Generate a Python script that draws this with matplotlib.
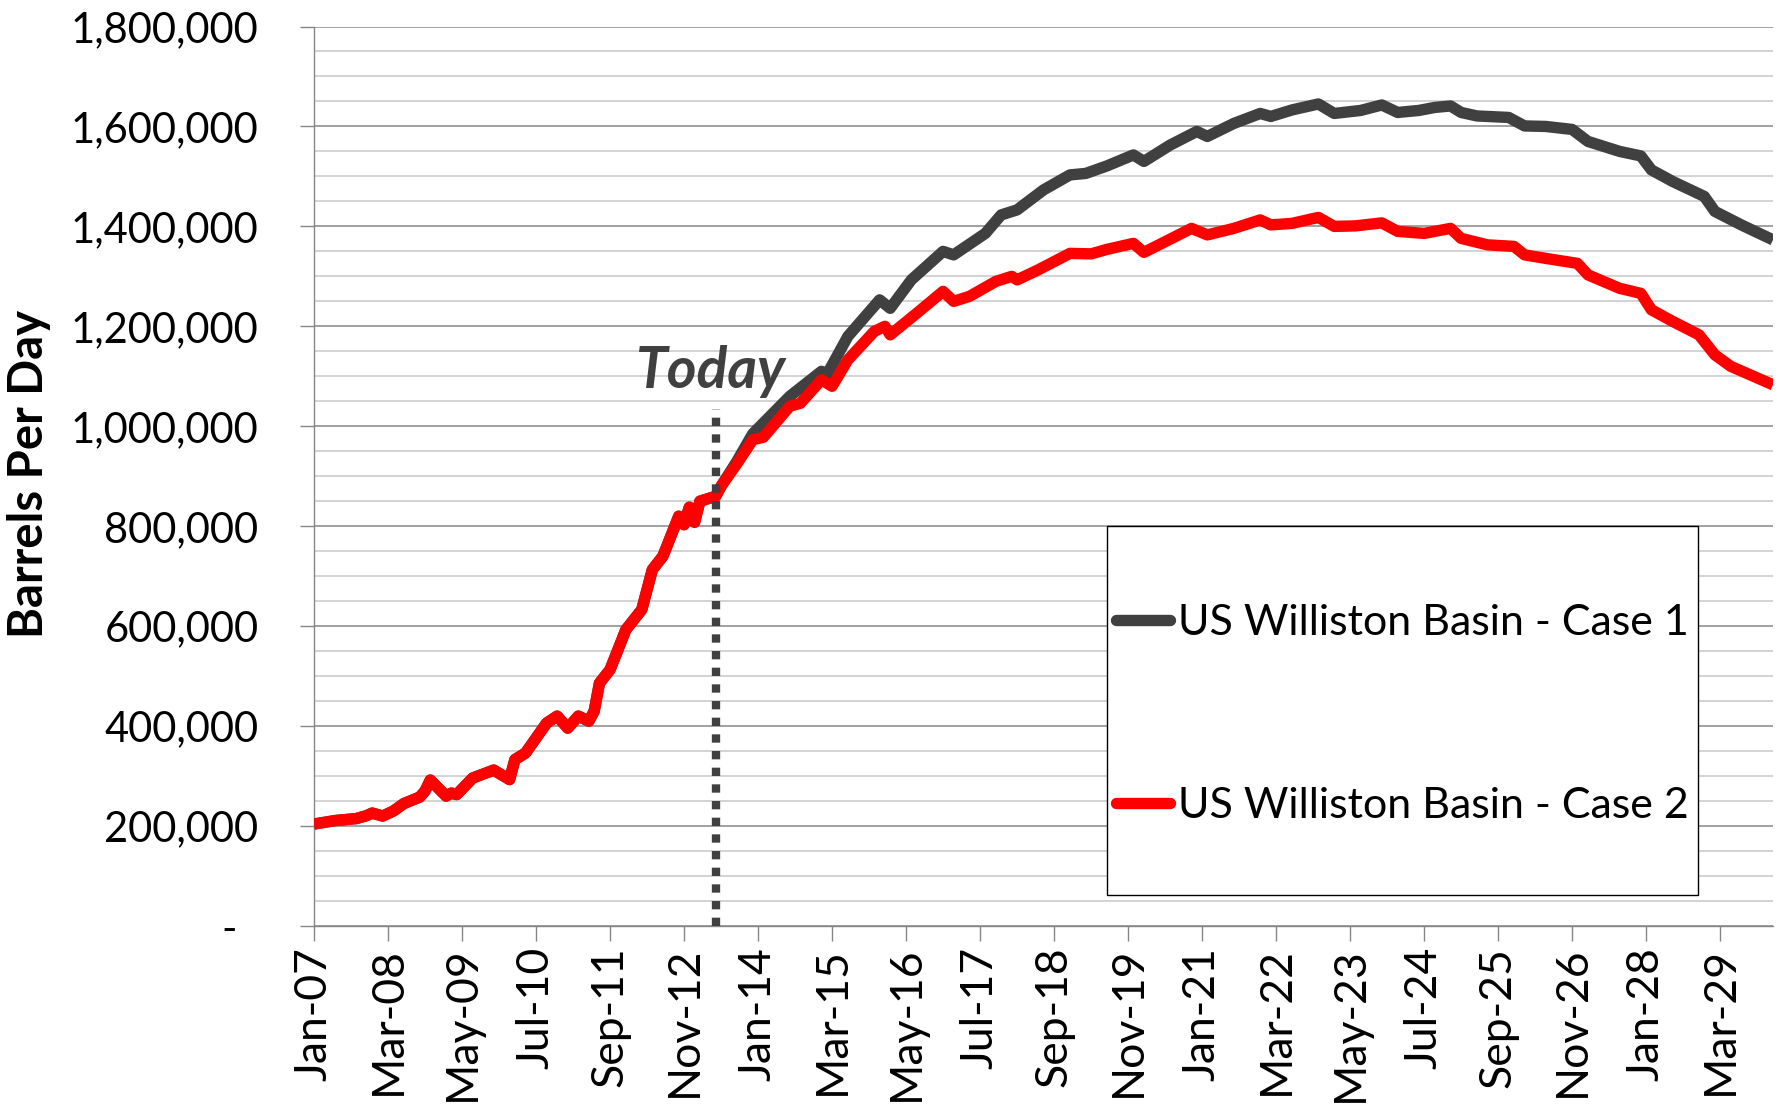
import matplotlib
matplotlib.use("Agg")
import matplotlib.pyplot as plt
from matplotlib.patches import Rectangle
from matplotlib.lines import Line2D

plt.rcParams['font.family'] = ['Lato', 'DejaVu Sans']

# ---------------- data ----------------
# month index: 0 = Jan-07
hist_month = [0, 4, 8, 10, 11, 13, 15, 17, 20, 21, 22, 25, 26, 27, 30, 34, 37, 38, 40, 42,
              44, 46, 48, 50, 52, 53, 54, 56, 59, 62, 64, 66, 69, 70, 71, 72, 73, 76, 77]
hist_bpd = [204000, 211000, 215000, 221000, 226000, 220000, 230000, 245000, 258000, 270000,
            292000, 260000, 266000, 263000, 296000, 312000, 293000, 333000, 346000, 376000,
            406000, 420000, 396000, 420000, 410000, 430000, 486000, 513000, 593000, 633000,
            713000, 740000, 820000, 803000, 838000, 808000, 850000, 860000, 880000]

case1_month = [80, 83, 90, 96, 97, 101, 107, 109, 113, 119, 121, 127, 130, 133, 138, 143,
               146, 150, 155, 157, 162, 167, 169, 174, 179, 181, 185, 190, 193, 198, 202, 205,
               209, 212, 215, 217, 220, 226, 229, 233, 238, 241, 247, 251, 253, 257, 263, 265,
               270, 276]
case1_bpd = [930000, 985000, 1060000, 1110000, 1103000, 1180000, 1253000, 1236000, 1293000,
             1350000, 1343000, 1386000, 1423000, 1433000, 1473000, 1503000, 1506000, 1521000,
             1543000, 1530000, 1563000, 1590000, 1580000, 1606000, 1626000, 1620000, 1633000,
             1645000, 1626000, 1632000, 1643000, 1628000, 1632000, 1638000, 1641000, 1628000,
             1621000, 1618000, 1601000, 1600000, 1594000, 1570000, 1550000, 1541000, 1513000,
             1490000, 1460000, 1430000, 1403000, 1373000]

case2_month = [80, 83, 85, 90, 92, 96, 98, 101, 106, 108, 109, 114, 119, 121, 124, 129, 132,
               133, 137, 143, 147, 150, 155, 157, 166, 169, 174, 179, 181, 185, 190, 193, 197,
               202, 205, 210, 215, 217, 222, 227, 229, 233, 239, 241, 247, 251, 253, 257, 262,
               265, 268, 276]
case2_bpd = [925000, 973000, 978000, 1040000, 1046000, 1093000, 1080000, 1133000, 1190000,
             1200000, 1183000, 1226000, 1270000, 1250000, 1260000, 1290000, 1300000, 1293000,
             1313000, 1346000, 1345000, 1354000, 1366000, 1348000, 1396000, 1383000, 1396000,
             1413000, 1403000, 1406000, 1418000, 1400000, 1401000, 1407000, 1390000, 1386000,
             1396000, 1376000, 1363000, 1360000, 1343000, 1336000, 1326000, 1303000, 1276000,
             1266000, 1233000, 1210000, 1183000, 1143000, 1120000, 1083000]

series_names = ["US Williston Basin - Case 1", "US Williston Basin - Case 2"]
today_month = 76
today_top = 1035000

xtick_month = list(range(0, 267, 14))
xtick_labels = ["Jan-07", "Mar-08", "May-09", "Jul-10", "Sep-11", "Nov-12", "Jan-14",
                "Mar-15", "May-16", "Jul-17", "Sep-18", "Nov-19", "Jan-21", "Mar-22",
                "May-23", "Jul-24", "Sep-25", "Nov-26", "Jan-28", "Mar-29"]
ytick_values = list(range(0, 1800001, 200000))
ytick_labels = ["-  ", "200,000", "400,000", "600,000", "800,000", "1,000,000",
                "1,200,000", "1,400,000", "1,600,000", "1,800,000"]

# ---------------- figure ----------------
W, H = 1781, 1105
fig = plt.figure(figsize=(W / 100, H / 100), dpi=100)
ax = fig.add_axes([314 / W, 1 - 926 / H, (1773 - 314) / W, (926 - 26.5) / H])

GREY = "#404040"
RED = "#ff0000"
LW = 8.2

c1x = hist_month + case1_month
c1y = hist_bpd + case1_bpd
c2x = hist_month + case2_month
c2y = hist_bpd + case2_bpd

ax.plot(c1x, c1y, color=GREY, lw=LW, solid_joinstyle='round', solid_capstyle='butt', zorder=3)
ax.plot(c2x, c2y, color=RED, lw=LW, solid_joinstyle='round', solid_capstyle='butt', zorder=4)

# Today marker
ax.plot([today_month, today_month], [0, today_top], color=GREY, lw=6.0,
        linestyle=(0, (1, 1)), dash_capstyle='butt', zorder=6, clip_on=False)
ax.text(61.0, 1077000, "Today", fontsize=41, fontweight='bold', fontstyle='italic',
        color=GREY, ha='left', va='baseline', zorder=7)

ax.set_xlim(0, 276)
ax.set_ylim(0, 1800000)

# grid
ax.set_yticks(ytick_values)
ax.set_yticks(range(0, 1800001, 50000), minor=True)
ax.yaxis.grid(True, which='minor', color='#d0d0d0', lw=1.3, zorder=0)
ax.yaxis.grid(True, which='major', color='#9a9a9a', lw=1.3, zorder=1)
ax.set_axisbelow(True)

ax.set_yticklabels(ytick_labels, fontsize=30)
ax.set_xticks(xtick_month)
ax.set_xticklabels(xtick_labels, rotation=90, fontsize=32)

ax.tick_params(axis='y', which='major', length=10, width=1.0, color='#868686', pad=30)
ax.tick_params(axis='y', which='minor', length=0)
ax.tick_params(axis='x', which='major', length=11, width=1.0, color='#868686', pad=4)

for s in ['top', 'right']:
    ax.spines[s].set_visible(False)
for s in ['left', 'bottom']:
    ax.spines[s].set_color('#868686')
    ax.spines[s].set_linewidth(1.0)

ax.set_ylabel("Barrels Per Day", fontsize=34, fontweight='bold')
ax.yaxis.set_label_coords(-0.180, 0.502)

# legend
box = Rectangle((1107 / W, 1 - 895 / H), (1698 - 1107) / W, (895 - 526) / H,
                transform=fig.transFigure, facecolor='white', edgecolor='black', lw=1.0,
                zorder=8)
fig.patches.append(box)
handles = [Line2D([], [], color=GREY, lw=LW, solid_capstyle='round'),
           Line2D([], [], color=RED, lw=LW, solid_capstyle='round')]
leg = fig.legend(handles, series_names, loc='center',
                 bbox_to_anchor=((1107 + 1698) / 2 / W, 1 - ((526 + 895) / 2 + 4) / H),
                 frameon=False, fontsize=31, labelspacing=3.35, handlelength=1.25,
                 handletextpad=0.2, borderpad=0, borderaxespad=0)
leg.set_zorder(9)

fig.savefig("out.png", dpi=100)
